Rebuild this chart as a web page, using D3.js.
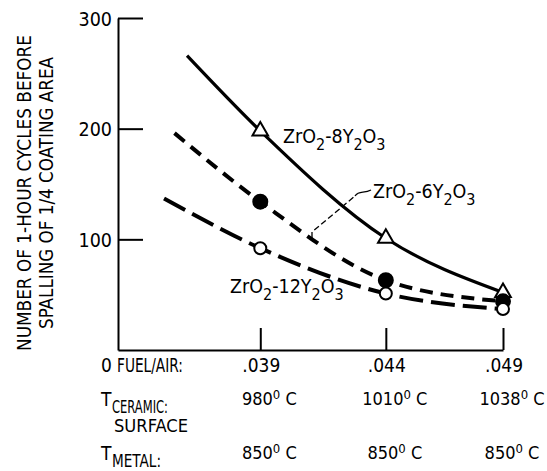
<!DOCTYPE html>
<html>
<head>
<meta charset="utf-8">
<script src="https://cdn.jsdelivr.net/npm/d3@7"></script>
<style>
  body { margin: 0; background: #fff; }
  svg { display: block; }
  text { font-family: "Liberation Sans Narrow", "DejaVu Sans Condensed", "Arial Narrow", sans-serif; fill: #000; }
</style>
</head>
<body>
<script>
// conditions along the x axis
var fuelAir = [".039", ".044", ".049"];
var ceramicT = [980, 1010, 1038];
var metalT = [850, 850, 850];

// cycles to spalling for each coating
var zr8 = [198, 101, 52];
var zr6 = [134, 63, 44];
var zr12 = [92, 51, 37];

// faired curves start a bit left of the first point
var curveStartT = [962.5, 959.5, 957];
var curveStartV = [266, 196, 137];

var yTicks = [100, 200, 300];

var width = 547, height = 471;

var svg = d3.select("body")
    .append("svg")
    .attr("width", width).attr("height", height);

// x runs on ceramic surface temperature, origin at left end of the axis
var x = d3.scaleLinear().domain([946, 1038]).range([118, 503]);
var y = d3.scaleLinear().domain([0, 300]).range([350, 18]);

// y axis, ticks point inward
var yAxis = svg.append("g")
    .attr("transform", "translate(" + x(946) + ",0)")
    .call(d3.axisLeft(y).tickValues(yTicks).tickSizeInner(-25).tickSizeOuter(0).tickPadding(6));
yAxis.select(".domain").attr("stroke-width", 2);
yAxis.selectAll(".tick line").attr("stroke-width", 2);
yAxis.selectAll(".tick text")
    .style("font-size", "19.5px")
    .attr("dy", "0.36em")
    .attr("fill", "#000");

// x axis, ticks point up
var xAxis = svg.append("g")
    .attr("transform", "translate(0," + y(0) + ")")
    .call(d3.axisBottom(x).tickValues(ceramicT).tickSizeInner(-22).tickSizeOuter(0).tickFormat(""));
xAxis.select(".domain").attr("stroke-width", 2);
xAxis.selectAll(".tick line").attr("stroke-width", 2);

// y axis title
var title = svg.append("g").attr("transform", "translate(0,193) rotate(-90)");
title.append("text")
    .attr("x", 0).attr("y", 31)
    .attr("text-anchor", "middle")
    .attr("textLength", 316).attr("lengthAdjust", "spacingAndGlyphs")
    .style("font-size", "19px")
    .text("NUMBER OF 1-HOUR CYCLES BEFORE");
title.append("text")
    .attr("x", 0).attr("y", 53)
    .attr("text-anchor", "middle")
    .attr("textLength", 272).attr("lengthAdjust", "spacingAndGlyphs")
    .style("font-size", "19px")
    .text("SPALLING OF 1/4 COATING AREA");

// series
var series = [
    {vals: zr8, start: 0, dash: null, width: 3.2, marker: "tri"},
    {vals: zr6, start: 1, dash: "13,8", width: 4, marker: "dot"},
    {vals: zr12, start: 2, dash: "24,8", width: 4, marker: "ring"}
];

var line = d3.line()
    .x(function(d){ return x(d[0]); })
    .y(function(d){ return y(d[1]); })
    .curve(d3.curveMonotoneX);

series.forEach(function(s){
    var pts = [[curveStartT[s.start], curveStartV[s.start]]];
    ceramicT.forEach(function(t, i){ pts.push([t, s.vals[i]]); });
    svg.append("path")
        .datum(pts)
        .attr("d", line)
        .attr("fill", "none")
        .attr("stroke", "#000")
        .attr("stroke-width", s.width)
        .attr("stroke-dasharray", s.dash);
});

// markers
series.forEach(function(s){
    var g = svg.append("g");
    var sel = g.selectAll("path")
        .data(s.vals)
        .enter();
    if (s.marker == "tri") {
        sel.append("path")
            .attr("d", d3.symbol().type(d3.symbolTriangle).size(105))
            .attr("transform", function(d, i){ return "translate(" + x(ceramicT[i]) + "," + y(d) + ")"; })
            .attr("fill", "#fff").attr("stroke", "#000").attr("stroke-width", 2);
    } else {
        sel.append("circle")
            .attr("cx", function(d, i){ return x(ceramicT[i]); })
            .attr("cy", function(d){ return y(d); })
            .attr("r", s.marker == "dot" ? 7 : 6)
            .attr("fill", s.marker == "dot" ? "#000" : "#fff")
            .attr("stroke", "#000").attr("stroke-width", 2);
    }
});

// curve labels: ZrO2-nY2O3
function chem(xp, yp, n) {
    var t = svg.append("text").attr("x", xp).attr("y", yp).style("font-size", "19.5px");
    t.append("tspan").text("ZrO");
    t.append("tspan").attr("dy", 7).style("font-size", "16px").text("2");
    t.append("tspan").attr("dy", -7).text("-" + n + "Y");
    t.append("tspan").attr("dy", 7).style("font-size", "16px").text("2");
    t.append("tspan").attr("dy", -7).text("O");
    t.append("tspan").attr("dy", 7).style("font-size", "16px").text("3");
}
chem(283, 143, 8);
chem(373, 198, 6);
chem(230, 293, 12);

// leader from 6Y2O3 label down to its curve
svg.append("path")
    .attr("d", "M312,238 L312,232 L355,196")
    .attr("fill", "none").attr("stroke", "#000").attr("stroke-width", 1.3)
    .attr("stroke-dasharray", "6,3");
svg.append("path")
    .attr("d", "M355,196 C359,190 364,194 371,190")
    .attr("fill", "none").attr("stroke", "#000").attr("stroke-width", 1.3);

// rows under the x axis
var fs = "18px";
svg.append("text").attr("x", 101).attr("y", 372).style("font-size", "19px").text("0");
svg.append("text").attr("x", 117).attr("y", 372).style("font-size", "19px")
    .attr("textLength", 66).attr("lengthAdjust", "spacingAndGlyphs")
    .text("FUEL/AIR:");
svg.selectAll(".fa")
    .data(fuelAir)
    .enter()
    .append("text")
    .attr("x", function(d, i){ return x(ceramicT[i]) + 1; })
    .attr("y", 372)
    .attr("text-anchor", "middle")
    .style("font-size", "19px")
    .text(function(d){ return d; });

function subLabel(yp, sub, len) {
    svg.append("text").attr("x", 101).attr("y", yp).style("font-size", "19px").text("T");
    svg.append("text").attr("x", 112).attr("y", yp + 7).style("font-size", "17px")
        .attr("textLength", len).attr("lengthAdjust", "spacingAndGlyphs")
        .text(sub);
}
subLabel(406, "CERAMIC:", 56);
svg.append("text").attr("x", 114).attr("y", 432).style("font-size", "17px")
    .attr("textLength", 74).attr("lengthAdjust", "spacingAndGlyphs")
    .text("SURFACE");
subLabel(460, "METAL:", 49);

function tempRow(vals, yp) {
    var t = svg.selectAll(null)
        .data(vals)
        .enter()
        .append("text")
        .attr("x", function(d, i){ return x(ceramicT[i]) + 9; })
        .attr("y", yp)
        .attr("text-anchor", "middle")
        .style("font-size", fs);
    t.append("tspan").text(function(d){ return d; });
    t.append("tspan").attr("dy", -6).style("font-size", "13px").text("0");
    t.append("tspan").attr("dy", 6).text(" C");
}
tempRow(ceramicT, 405);
tempRow(metalT, 459);
</script>
</body>
</html>
